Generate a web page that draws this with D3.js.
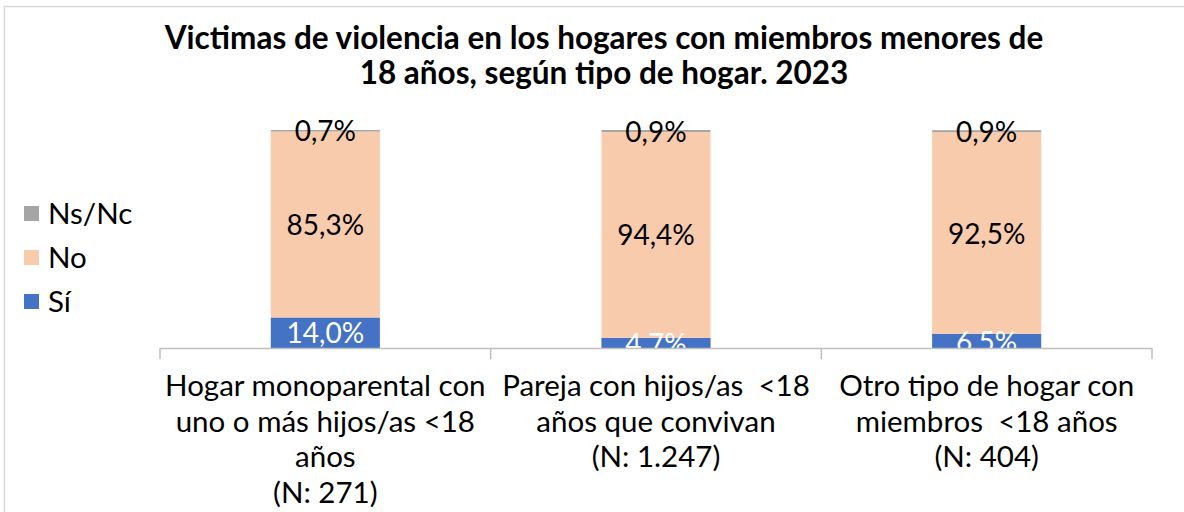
<!DOCTYPE html>
<html>
<head>
<meta charset="utf-8">
<script src="https://cdn.jsdelivr.net/npm/d3@7"></script>
<style>
  html, body { margin: 0; padding: 0; background: #fff; }
  svg { display: block; font-family: Lato, "Noto Sans", sans-serif; }
  text { white-space: pre; }
</style>
</head>
<body>
<svg id="chart" width="1184" height="512"></svg>
<script>
// Household types (axis labels split into display lines)
const categories = [
  "Hogar monoparental",
  "Pareja con hijos",
  "Otro tipo de hogar"
];
const categoryLines = [
  ["Hogar monoparental con", "uno o más hijos/as <18", "años", "(N: 271)"],
  ["Pareja con hijos/as  <18", "años que convivan", "(N: 1.247)"],
  ["Otro tipo de hogar con", "miembros  <18 años", "(N: 404)"]
];
// Series, stacked bottom to top
const seriesNames = ["Sí", "No", "Ns/Nc"];
const siValues   = [14.0, 4.7, 6.5];
const noValues   = [85.3, 94.4, 92.5];
const nsncValues = [0.7, 0.9, 0.9];
const seriesColors = ["#4472C4", "#F8CBAD", "#A5A5A5"];
const labelColors  = ["#ffffff", "#000000", "#000000"];

const titleLines = [
  "Victimas de violencia en los hogares con miembros menores de",
  "18 años, según tipo de hogar. 2023"
];

const svg = d3.select("#chart");
const W = 1184, H = 512;

// outer frame
svg.append("path")
  .attr("d", `M4.5,${H} V6.5 H${W}`)
  .attr("fill", "none")
  .attr("stroke", "#d9d9d9")
  .attr("stroke-width", 1.5);

// title
svg.append("g").selectAll("text")
  .data(titleLines)
  .join("text")
  .attr("x", 604)
  .attr("y", (d, i) => 49 + i * 35)
  .attr("text-anchor", "middle")
  .attr("font-size", 31.5)
  .attr("font-weight", "bold")
  .attr("fill", "#000")
  .text(d => d);

const plot = { left: 160, right: 1152, top: 130, bottom: 348 };

const rows = categories.map((c, i) => ({
  cat: c,
  "Sí": siValues[i],
  "No": noValues[i],
  "Ns/Nc": nsncValues[i]
}));

const stack = d3.stack().keys(seriesNames);
const stacked = stack(rows);

const x = d3.scaleBand()
  .domain(categories)
  .range([plot.left, plot.right])
  .paddingInner(0.67)
  .paddingOuter(0.335);

const y = d3.scaleLinear()
  .domain([0, 100])
  .range([plot.bottom, plot.top]);

const color = d3.scaleOrdinal().domain(seriesNames).range(seriesColors);

// bars
const gBars = svg.append("g");
gBars.selectAll("g")
  .data(stacked)
  .join("g")
  .attr("fill", d => color(d.key))
  .selectAll("rect")
  .data(d => d)
  .join("rect")
  .attr("x", d => x(d.data.cat))
  .attr("y", d => y(d[1]))
  .attr("width", x.bandwidth())
  .attr("height", d => y(d[0]) - y(d[1]));

// value labels, clipped at the axis line
svg.append("clipPath").attr("id", "plotClip")
  .append("rect")
  .attr("x", 0).attr("y", 0)
  .attr("width", W).attr("height", plot.bottom);

const fmt = v => v.toFixed(1).replace(".", ",") + "%";
const gLabels = svg.append("g").attr("clip-path", "url(#plotClip)");
stacked.forEach((s, si) => {
  gLabels.append("g").selectAll("text")
    .data(s)
    .join("text")
    .attr("x", d => x(d.data.cat) + x.bandwidth() / 2)
    .attr("y", d => (y(d[0]) + y(d[1])) / 2)
    .attr("dy", "0.38em")
    .attr("text-anchor", "middle")
    .attr("font-size", 28)
    .attr("fill", labelColors[si])
    .text(d => fmt(d[1] - d[0]));
});

// category axis
const tickXs = d3.range(categories.length + 1).map(i => plot.left + i * (plot.right - plot.left) / categories.length);
const axisG = svg.append("g");
axisG.append("line")
  .attr("x1", plot.left).attr("x2", plot.right)
  .attr("y1", plot.bottom + 0.5).attr("y2", plot.bottom + 0.5)
  .attr("stroke", "#bfbfbf").attr("stroke-width", 1.5);
axisG.selectAll("line.tick")
  .data(tickXs)
  .join("line")
  .attr("class", "tick")
  .attr("x1", d => d).attr("x2", d => d)
  .attr("y1", plot.bottom).attr("y2", plot.bottom + 11)
  .attr("stroke", "#bfbfbf").attr("stroke-width", 1.5);

const catLabel = axisG.selectAll("text.cat")
  .data(categories)
  .join("text")
  .attr("class", "cat")
  .attr("text-anchor", "middle")
  .attr("font-size", 29.5)
  .attr("fill", "#000");
catLabel.each(function(c, i) {
  d3.select(this).selectAll("tspan")
    .data(categoryLines[i])
    .join("tspan")
    .attr("x", x(c) + x.bandwidth() / 2)
    .attr("y", (d, j) => 396 + j * 35.5)
    .text(d => d);
});

// legend (top to bottom: Ns/Nc, No, Sí)
const legendItems = seriesNames.slice().reverse();
const lg = svg.append("g").selectAll("g")
  .data(legendItems)
  .join("g")
  .attr("transform", (d, i) => `translate(24, ${213 + i * 44})`);
lg.append("rect")
  .attr("x", 0).attr("y", -7)
  .attr("width", 15).attr("height", 15)
  .attr("fill", d => color(d));
lg.append("text")
  .attr("x", 24)
  .attr("y", 0)
  .attr("dy", "0.37em")
  .attr("font-size", 29.5)
  .attr("fill", "#000")
  .text(d => d);
</script>
</body>
</html>
